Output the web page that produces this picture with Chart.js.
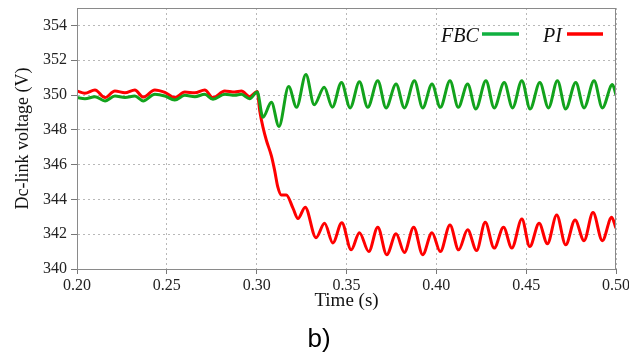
<!DOCTYPE html>
<html lang="en">
<head>
<meta charset="UTF-8">
<title>Dc-link voltage</title>
<script src="https://cdn.jsdelivr.net/npm/chart.js"></script>
<style>
  html, body { margin: 0; padding: 0; background: #fff; }
  #wrap { width: 629px; height: 356px; }
</style>
</head>
<body>
<div id="wrap"><canvas id="vChart"></canvas></div>
<script>
// values (time in s, voltage in V)
const fbcTime = [0.2000, 0.2044, 0.2100, 0.2156, 0.2211, 0.2267, 0.2322, 0.2368, 0.2433, 0.2489,
  0.2544, 0.2600, 0.2656, 0.2711, 0.2757, 0.2822, 0.2878, 0.2915, 0.2961, 0.3003,
  0.3035, 0.3082, 0.3124, 0.3178, 0.3222, 0.3274, 0.3320, 0.3376, 0.3421, 0.3472,
  0.3520, 0.3572, 0.3618, 0.3674, 0.3720, 0.3776, 0.3822, 0.3878, 0.3924, 0.3976,
  0.4022, 0.4076, 0.4122, 0.4174, 0.4220, 0.4276, 0.4322, 0.4378, 0.4424, 0.4476,
  0.4522, 0.4576, 0.4624, 0.4674, 0.4720, 0.4776, 0.4822, 0.4878, 0.4924, 0.4980, 0.5000];
const fbcVolt = [349.85, 349.79, 349.90, 349.66, 349.94, 349.85, 349.94, 349.66, 350.04, 349.94,
  349.71, 349.98, 349.90, 350.04, 349.75, 350.04, 349.98, 350.04, 349.79, 350.17,
  348.72, 349.58, 348.19, 350.49, 349.29, 351.18, 349.44, 350.45, 349.30, 350.72,
  349.26, 350.76, 349.29, 350.82, 349.26, 350.63, 349.26, 350.82, 349.26, 350.63,
  349.29, 350.82, 349.29, 350.63, 349.20, 350.82, 349.26, 350.72, 349.26, 350.82,
  349.20, 350.72, 349.26, 350.82, 349.20, 350.72, 349.26, 350.82, 349.26, 350.60, 350.00];

const piTime = [0.2000, 0.2044, 0.2100, 0.2156, 0.2211, 0.2267, 0.2322, 0.2368, 0.2433, 0.2489,
  0.2544, 0.2600, 0.2656, 0.2711, 0.2757, 0.2822, 0.2878, 0.2915, 0.2961, 0.3003,
  0.3017, 0.3035, 0.3054, 0.3082, 0.3100, 0.3118, 0.3137, 0.3165, 0.3202, 0.3230,
  0.3270, 0.3330, 0.3378, 0.3424, 0.3474, 0.3526, 0.3572, 0.3624, 0.3674, 0.3724,
  0.3776, 0.3822, 0.3874, 0.3924, 0.3976, 0.4022, 0.4076, 0.4124, 0.4174, 0.4224,
  0.4272, 0.4322, 0.4374, 0.4420, 0.4476, 0.4520, 0.4572, 0.4618, 0.4670, 0.4720,
  0.4772, 0.4822, 0.4872, 0.4924, 0.4976, 0.5000];
const piVolt = [350.23, 350.10, 350.29, 349.85, 350.23, 350.13, 350.29, 349.88, 350.29, 350.15,
  349.85, 350.17, 350.13, 350.29, 349.85, 350.23, 350.17, 350.23, 349.90, 350.20,
  349.10, 348.15, 347.40, 346.50, 345.67, 344.70, 344.25, 344.25, 343.50, 342.90,
  343.55, 341.80, 342.63, 341.50, 342.66, 341.10, 342.09, 341.00, 342.40, 340.82,
  342.02, 340.95, 342.40, 340.82, 342.09, 341.00, 342.53, 341.10, 342.25, 341.06,
  342.68, 341.20, 342.40, 341.20, 342.87, 341.29, 342.63, 341.45, 343.10, 341.39,
  342.82, 341.63, 343.24, 341.63, 342.97, 342.34];

const xTicks = [0.20, 0.25, 0.30, 0.35, 0.40, 0.45, 0.50];
const yTicks = [340, 342, 344, 346, 348, 350, 352, 354];

const serif = '"Liberation Serif", "Times New Roman", serif';
const greenLine = '#12a31c';
const redLine = '#ff0000';

function pts(xs, ys) {
  return xs.map((x, i) => ({ x: x, y: ys[i] }));
}

// box round the plot, legend and the "b)" caption
const decor = {
  id: 'decor',
  afterDraw(chart) {
    const { ctx, chartArea: a } = chart;
    ctx.save();
    ctx.strokeStyle = '#8a8a8a';
    ctx.lineWidth = 1;
    ctx.strokeRect(a.left + 0.5, a.top + 0.5, a.right - a.left - 1, a.bottom - a.top);

    ctx.font = 'italic 20px ' + serif;
    ctx.fillStyle = '#111';
    ctx.textBaseline = 'alphabetic';
    ctx.fillText('FBC', a.right - 175, 42);
    ctx.fillText('PI', a.right - 73, 42);
    ctx.lineWidth = 3.5;
    ctx.strokeStyle = '#10b040';
    ctx.beginPath(); ctx.moveTo(a.right - 134, 34); ctx.lineTo(a.right - 97, 34); ctx.stroke();
    ctx.strokeStyle = redLine;
    ctx.beginPath(); ctx.moveTo(a.right - 49, 34); ctx.lineTo(a.right - 13, 34); ctx.stroke();

    ctx.font = '26px "Liberation Sans", Arial, sans-serif';
    ctx.textAlign = 'center';
    ctx.fillStyle = '#000';
    ctx.fillText('b)', 319, 347);
    ctx.restore();
  }
};

new Chart(document.getElementById('vChart'), {
  type: 'line',
  data: {
    datasets: [
      { label: 'FBC', data: pts(fbcTime, fbcVolt), borderColor: greenLine, borderWidth: 3,
        pointRadius: 0, cubicInterpolationMode: 'monotone', fill: false },
      { label: 'PI', data: pts(piTime, piVolt), borderColor: redLine, borderWidth: 3,
        pointRadius: 0, cubicInterpolationMode: 'monotone', fill: false }
    ]
  },
  options: {
    responsive: true,
    maintainAspectRatio: false,
    animation: false,
    layout: { padding: { left: 0, right: 13, top: 8, bottom: 44 } },
    plugins: { legend: { display: false }, tooltip: { enabled: false } },
    scales: {
      x: {
        type: 'linear', min: 0.2, max: 0.5,
        afterBuildTicks: s => { s.ticks = xTicks.map(v => ({ value: v })); },
        afterFit: s => { s.paddingLeft = 0; s.paddingRight = 0; },
        ticks: { color: '#222', font: { family: serif, size: 16 }, padding: 2, maxRotation: 0,
          callback: v => v.toFixed(2) },
        grid: { color: '#b8b8b8', tickLength: 5, tickColor: '#777', tickBorderDash: [] },
        border: { color: '#777', width: 1, dash: [2, 3] },
        title: { display: true, text: 'Time (s)', color: '#111',
          font: { family: serif, size: 19 }, padding: { top: -8, bottom: 0 } }
      },
      y: {
        min: 340, max: 355,
        afterBuildTicks: s => { s.ticks = yTicks.map(v => ({ value: v })); },
        afterFit: s => { s.width = 77; s.paddingTop = 0; s.paddingBottom = 0; },
        ticks: { color: '#222', font: { family: serif, size: 16 }, padding: 4 },
        grid: { color: '#b8b8b8', tickLength: 6, tickColor: '#777', tickBorderDash: [] },
        border: { color: '#777', width: 1, dash: [2, 3] },
        title: { display: true, text: 'Dc-link voltage (V)', color: '#111',
          font: { family: serif, size: 18 }, padding: { top: 12, bottom: 0 } }
      }
    }
  },
  plugins: [decor]
});
</script>
</body>
</html>
